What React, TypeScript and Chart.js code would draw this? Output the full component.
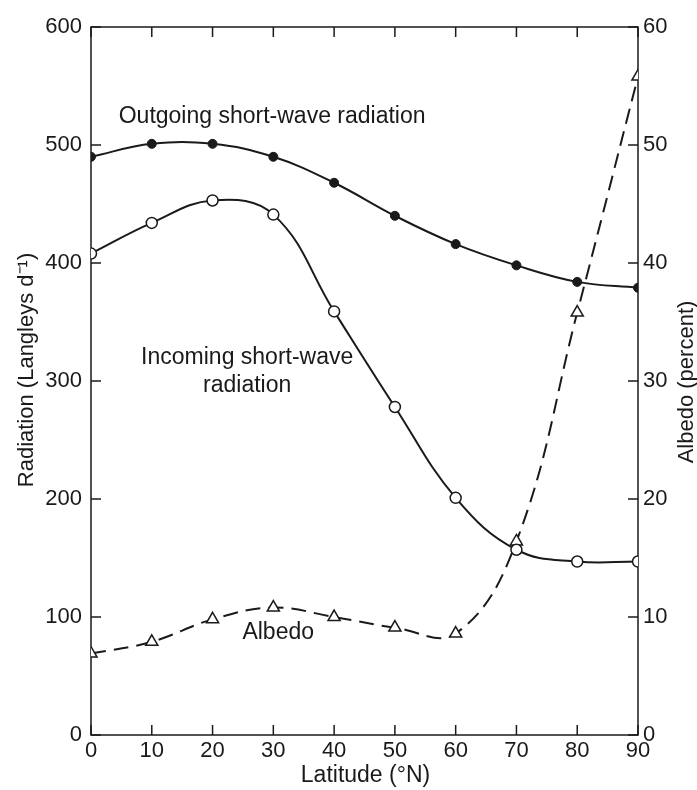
import { useEffect, useRef } from 'react';
import { Chart, registerables } from 'chart.js';

Chart.register(...registerables);

const latitudes = [0, 10, 20, 30, 40, 50, 60, 70, 80, 90];
const outgoing = [490, 501, 501, 490, 468, 440, 416, 398, 384, 379];
const incoming = [408, 434, 453, 441, 359, 278, 201, 157, 147, 147];
const albedo = [6.9, 7.9, 9.8, 10.8, 10.0, 9.1, 8.6, 16.4, 35.8, 55.8];

const xTicks = [0, 10, 20, 30, 40, 50, 60, 70, 80, 90];
const leftTicks = [0, 100, 200, 300, 400, 500, 600];
const rightTicks = [0, 10, 20, 30, 40, 50, 60];

const xTitle = 'Latitude (°N)';
const leftTitle = 'Radiation (Langleys d⁻¹)';
const rightTitle = 'Albedo (percent)';

const notes = [
  { text: 'Outgoing short-wave radiation', lat: 29.8, rad: 524 },
  { text: 'Incoming short-wave', lat: 25.7, rad: 320 },
  { text: 'radiation', lat: 25.7, rad: 296 },
  { text: 'Albedo', lat: 30.8, rad: 87 },
];

const FONT = '"Liberation Sans", Arial, Helvetica, sans-serif';
const INK = '#1a1a1a';

const framePlugin = {
  id: 'frame',
  beforeDatasetsDraw(chart: any) {
    const { ctx, chartArea: a, scales } = chart;
    ctx.save();
    ctx.strokeStyle = INK;
    ctx.lineWidth = 1.5;
    ctx.strokeRect(a.left, a.top, a.right - a.left, a.bottom - a.top);
    const L = 10;
    const seg = (x1: number, y1: number, x2: number, y2: number) => {
      ctx.beginPath();
      ctx.moveTo(x1, y1);
      ctx.lineTo(x2, y2);
      ctx.stroke();
    };
    xTicks.forEach((v) => {
      const px = scales.x.getPixelForValue(v);
      seg(px, a.bottom, px, a.bottom - L);
      seg(px, a.top, px, a.top + L);
    });
    leftTicks.forEach((v) => {
      const py = scales.y.getPixelForValue(v);
      seg(a.left, py, a.left + L, py);
    });
    rightTicks.forEach((v) => {
      const py = scales.y2.getPixelForValue(v);
      seg(a.right, py, a.right - L, py);
    });
    ctx.restore();
  },
  afterDraw(chart: any) {
    const { ctx, chartArea: a, scales } = chart;
    ctx.save();
    ctx.fillStyle = INK;
    ctx.textAlign = 'center';
    ctx.textBaseline = 'middle';
    ctx.font = `23px ${FONT}`;
    notes.forEach((n) => {
      ctx.fillText(n.text, scales.x.getPixelForValue(n.lat), scales.y.getPixelForValue(n.rad));
    });
    ctx.font = `23px ${FONT}`;
    ctx.fillText(xTitle, (a.left + a.right) / 2 + 1, 776);
    ctx.font = `22px ${FONT}`;
    ctx.save();
    ctx.translate(27, 370);
    ctx.rotate(-Math.PI / 2);
    ctx.fillText(leftTitle, 0, 0);
    ctx.restore();
    ctx.save();
    ctx.translate(687, 382);
    ctx.rotate(-Math.PI / 2);
    ctx.fillText(rightTitle, 0, 0);
    ctx.restore();
    ctx.restore();
  },
};

export default function App() {
  const ref = useRef<HTMLCanvasElement | null>(null);
  useEffect(() => {
    if (!ref.current) return;
    const tickFont = { family: FONT, size: 22 };
    const chart = new Chart(ref.current, {
      type: 'line',
      data: {
        datasets: [
          {
            label: 'Outgoing',
            data: latitudes.map((x, i) => ({ x, y: outgoing[i] })),
            yAxisID: 'y',
            borderColor: INK,
            borderWidth: 2,
            backgroundColor: INK,
            pointBackgroundColor: INK,
            pointBorderColor: INK,
            pointRadius: 4.5,
            pointBorderWidth: 1,
            tension: 0.4,
          },
          {
            label: 'Incoming',
            data: latitudes.map((x, i) => ({ x, y: incoming[i] })),
            yAxisID: 'y',
            borderColor: INK,
            borderWidth: 2,
            pointBackgroundColor: '#ffffff',
            pointBorderColor: INK,
            pointRadius: 5.5,
            pointBorderWidth: 1.5,
            tension: 0.4,
          },
          {
            label: 'Albedo',
            data: latitudes.map((x, i) => ({ x, y: albedo[i] })),
            yAxisID: 'y2',
            borderColor: INK,
            borderWidth: 2,
            borderDash: [15, 8],
            pointStyle: 'triangle',
            pointBackgroundColor: '#ffffff',
            pointBorderColor: INK,
            pointRadius: 7,
            pointBorderWidth: 1.5,
            tension: 0.4,
          },
        ],
      },
      options: {
        animation: false,
        responsive: false,
        devicePixelRatio: 1,
        layout: { padding: { top: 27 } },
        plugins: { legend: { display: false }, tooltip: { enabled: false } },
        scales: {
          x: {
            type: 'linear',
            min: 0,
            max: 90,
            afterBuildTicks: (s: any) => {
              s.ticks = xTicks.map((value) => ({ value }));
            },
            afterFit: (s: any) => {
              s.height = 55;
            },
            grid: { display: false, drawTicks: false },
            border: { display: false },
            ticks: { color: INK, font: tickFont, padding: 3, maxRotation: 0 },
          },
          y: {
            type: 'linear',
            position: 'left',
            min: 0,
            max: 600,
            afterBuildTicks: (s: any) => {
              s.ticks = leftTicks.map((value) => ({ value }));
            },
            afterFit: (s: any) => {
              s.width = 91;
            },
            grid: { display: false, drawTicks: false },
            border: { display: false },
            ticks: { color: INK, font: tickFont, padding: 9 },
          },
          y2: {
            type: 'linear',
            position: 'right',
            min: 0,
            max: 60,
            afterBuildTicks: (s: any) => {
              s.ticks = rightTicks.map((value) => ({ value }));
            },
            afterFit: (s: any) => {
              s.width = 59;
            },
            grid: { display: false, drawTicks: false },
            border: { display: false },
            ticks: { color: INK, font: tickFont, padding: 5 },
          },
        },
      },
      plugins: [framePlugin],
    });
    return () => chart.destroy();
  }, []);
  return (
    <div style={{ position: 'absolute', left: 0, top: 0, width: 697, height: 790, background: '#fff' }}>
      <canvas ref={ref} width={697} height={790} />
    </div>
  );
}
